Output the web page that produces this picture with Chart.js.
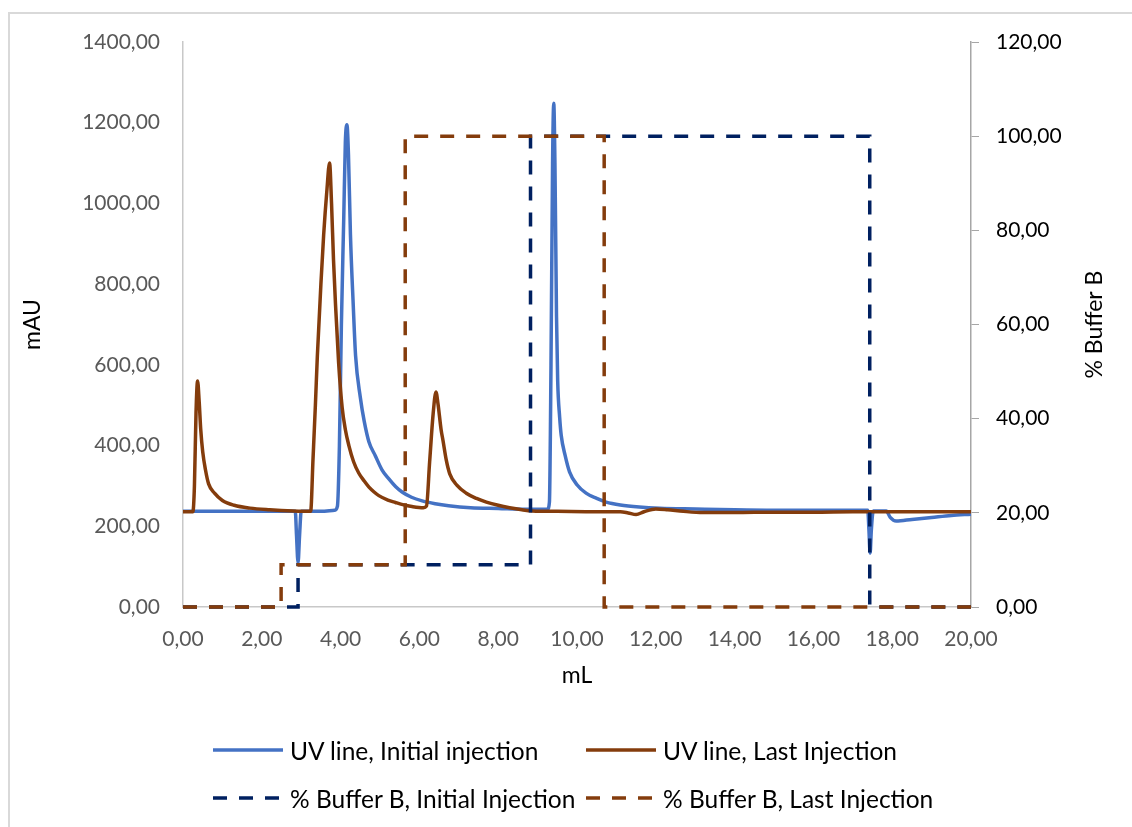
<!DOCTYPE html>
<html lang="en">

<head>
    <meta charset="UTF-8">
    <title>UV chromatogram</title>
    <style>
        body {
            margin: 0;
            background-color: #fff;
            overflow: hidden;
            font-family: Lato, sans-serif;
        }

        .frame {
            position: absolute;
            left: 8px;
            top: 12px;
            width: 1300px;
            height: 1000px;
            border: 2px solid #d9d9d9;
        }

        .wrap {
            position: absolute;
            left: 0;
            top: 0;
            width: 1132px;
            height: 827px;
        }

        .legend-item {
            position: absolute;
            height: 30px;
            font-size: 24.5px;
            color: #000;
            white-space: nowrap;
            display: flex;
            align-items: center;
        }

        .legend-item svg {
            margin-right: 7px;
        }
    </style>
</head>

<body>
    <div class="frame"></div>
    <div class="wrap">
        <canvas id="chart"></canvas>
    </div>

    <div class="legend-item" style="left:213px; top:735px;">
        <svg width="70" height="6"><line x1="0" y1="3" x2="70" y2="3" stroke="#4472C4" stroke-width="3.5" /></svg>UV line, Initial injection
    </div>
    <div class="legend-item" style="left:586px; top:735px;">
        <svg width="70" height="6"><line x1="0" y1="3" x2="70" y2="3" stroke="#843C0C" stroke-width="3.5" /></svg>UV line, Last Injection
    </div>
    <div class="legend-item" style="left:213px; top:783px;">
        <svg width="70" height="6"><line x1="0" y1="3" x2="70" y2="3" stroke="#002060" stroke-width="3.5" stroke-dasharray="14 12" /></svg>% Buffer B, Initial Injection
    </div>
    <div class="legend-item" style="left:586px; top:783px;">
        <svg width="70" height="6"><line x1="0" y1="3" x2="70" y2="3" stroke="#843C0C" stroke-width="3.5" stroke-dasharray="14 12" /></svg>% Buffer B, Last Injection
    </div>

    <script src="https://cdn.jsdelivr.net/npm/chart.js"></script>
    <script>
        // UV trace, initial injection (mL / mAU)
        const uvInitX = [0, 1, 2, 2.85, 2.88, 2.92, 2.96, 3.0, 3.5, 3.85, 3.92, 3.97, 4.02, 4.08, 4.12, 4.16, 4.2, 4.25, 4.32, 4.38,
            4.5, 4.6, 4.72, 4.88, 5.05, 5.22, 5.4, 5.56, 5.8, 6.07, 6.4, 6.74, 7.3, 8.0, 8.7, 9.25, 9.3, 9.34, 9.38, 9.41,
            9.44, 9.48, 9.51, 9.56, 9.6, 9.7, 9.81, 10.0, 10.23, 10.5, 10.74, 11.1, 11.58, 12.1, 13, 14, 15, 16, 17, 17.38,
            17.41, 17.44, 17.47, 17.52, 17.85, 17.95, 18.1, 18.5, 19, 19.5, 20];
        const uvInitY = [237, 237, 237, 237, 180, 110, 180, 237, 237, 240, 250, 400, 700, 964, 1150, 1195, 1120, 922, 750, 623,
            520, 460, 409, 375, 340, 318, 298, 285, 272, 263, 256, 251, 246, 244, 242, 242, 260, 600, 1100, 1248,
            1100, 720, 560, 470, 425, 375, 335, 303, 282, 269, 260, 253, 248, 245, 243, 241, 240, 240, 240, 240,
            190, 134, 190, 238, 238, 222, 213, 217, 222, 227, 230];

        // UV trace, last injection
        const uvLastX = [0, 0.25, 0.29, 0.33, 0.37, 0.41, 0.45, 0.5, 0.57, 0.65, 0.8, 1.0, 1.3, 1.7, 2.2, 2.8, 3.24, 3.3, 3.36, 3.41,
            3.5, 3.57, 3.65, 3.72, 3.77, 3.82, 3.87, 3.95, 4.04, 4.12, 4.21, 4.33, 4.46, 4.6, 4.72, 4.85, 4.97, 5.2, 5.39, 5.6,
            5.81, 6.1, 6.18, 6.26, 6.35, 6.42, 6.47, 6.55, 6.6, 6.68, 6.77, 6.95, 7.19, 7.45, 7.7, 8.0, 8.29, 8.6, 8.87, 9.5,
            10.5, 11.1, 11.3, 11.5, 11.7, 12.0, 12.3, 12.7, 13.2, 14, 15, 16, 17, 18, 19, 20];
        const uvLastY = [236, 236, 300, 480, 560, 510, 440, 385, 340, 305, 282, 264, 252, 245, 241, 238, 237, 367, 500, 622,
            800, 922, 1030, 1100, 1000, 860, 751, 605, 494, 440, 400, 360, 332, 312, 297, 285, 276, 265, 259, 253,
            249, 246, 250, 360, 480, 533, 505, 440, 412, 365, 330, 302, 282, 269, 260, 252, 246, 241, 238, 237,
            236, 236, 233, 229, 236, 243, 241, 237, 234, 234, 235, 235, 236, 236, 236, 236];

        // % Buffer B step programmes
        const bufInitX = [0, 2.92, 2.92, 8.82, 8.82, 17.43, 17.43, 20];
        const bufInitY = [0, 0, 9, 9, 100, 100, 0, 0];
        const bufLastX = [0, 2.49, 2.49, 5.64, 5.64, 10.69, 10.69, 20];
        const bufLastY = [0, 0, 9, 9, 100, 100, 0, 0];

        const zip = (xs, ys) => xs.map((x, i) => ({ x: x, y: ys[i] }));
        const fmt = v => Number(v).toFixed(2).replace('.', ',');
        const tickFont = { family: 'Lato', size: 21 };

        const axisTitles = {
            id: 'axisTitles',
            afterDraw(chart) {
                const { ctx, chartArea: a } = chart;
                const midY = (a.top + a.bottom) / 2;
                ctx.save();
                ctx.fillStyle = '#000';
                ctx.font = '23px Lato';
                ctx.textAlign = 'center';
                ctx.textBaseline = 'middle';
                ctx.fillText('mL', (a.left + a.right) / 2, a.bottom + 69);
                ctx.translate(a.left - 150, midY);
                ctx.rotate(-Math.PI / 2);
                ctx.fillText('mAU', 0, 0);
                ctx.restore();
                ctx.save();
                ctx.fillStyle = '#000';
                ctx.font = '23px Lato';
                ctx.textAlign = 'center';
                ctx.textBaseline = 'middle';
                ctx.translate(a.right + 124, midY);
                ctx.rotate(-Math.PI / 2);
                ctx.fillText('% Buffer B', 0, 0);
                ctx.restore();
            }
        };

        new Chart(document.getElementById('chart'), {
            type: 'line',
            data: {
                datasets: [
                    {
                        label: 'UV line, Initial injection',
                        data: zip(uvInitX, uvInitY),
                        borderColor: '#4472C4',
                        borderWidth: 3.5,
                        cubicInterpolationMode: 'monotone',
                        yAxisID: 'y',
                        order: 4
                    },
                    {
                        label: 'UV line, Last Injection',
                        data: zip(uvLastX, uvLastY),
                        borderColor: '#843C0C',
                        borderWidth: 3.5,
                        cubicInterpolationMode: 'monotone',
                        yAxisID: 'y',
                        order: 3
                    },
                    {
                        label: '% Buffer B, Initial Injection',
                        data: zip(bufInitX, bufInitY),
                        borderColor: '#002060',
                        borderWidth: 3.5,
                        borderDash: [14, 12],
                        yAxisID: 'y1',
                        order: 2
                    },
                    {
                        label: '% Buffer B, Last Injection',
                        data: zip(bufLastX, bufLastY),
                        borderColor: '#843C0C',
                        borderWidth: 3.5,
                        borderDash: [14, 12],
                        yAxisID: 'y1',
                        order: 1
                    }
                ]
            },
            options: {
                responsive: true,
                maintainAspectRatio: false,
                animation: false,
                layout: { padding: { top: 42, left: 0, right: 0, bottom: 0 } },
                elements: { point: { radius: 0 }, line: { tension: 0 } },
                datasets: { line: { clip: false } },
                plugins: { legend: { display: false }, tooltip: { enabled: false } },
                scales: {
                    x: {
                        type: 'linear',
                        min: 0,
                        max: 20,
                        afterFit: s => { s.height = 220; },
                        grid: { drawOnChartArea: false, drawTicks: false },
                        border: { color: '#c8c8c8', width: 1.5 },
                        ticks: { stepSize: 2, padding: 20, color: '#595959', font: tickFont, callback: fmt, maxRotation: 0 }
                    },
                    y: {
                        position: 'left',
                        min: 0,
                        max: 1400,
                        afterFit: s => { s.width = 183; },
                        grid: { drawOnChartArea: false, drawTicks: false },
                        border: { color: '#c8c8c8', width: 1.5 },
                        ticks: { stepSize: 200, padding: 23, color: '#595959', font: tickFont, callback: fmt }
                    },
                    y1: {
                        position: 'right',
                        min: 0,
                        max: 120,
                        afterFit: s => { s.width = 161; },
                        grid: { drawOnChartArea: false, drawTicks: true, tickLength: 8, color: '#a6a6a6' },
                        border: { color: '#a6a6a6', width: 1.5 },
                        ticks: { stepSize: 20, padding: 17, color: '#000', font: tickFont, callback: fmt }
                    }
                }
            },
            plugins: [axisTitles]
        });
    </script>
</body>

</html>
